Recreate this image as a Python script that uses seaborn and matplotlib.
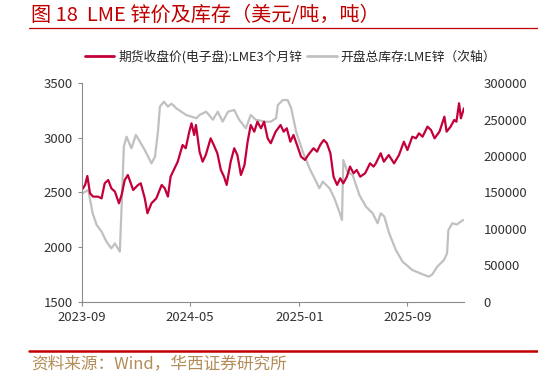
import numpy as np
import pandas as pd
import seaborn as sns
import matplotlib.pyplot as plt
import matplotlib.dates as mdates
from matplotlib.lines import Line2D

# LME 3个月锌 收盘价 (美元/吨)
price_dates = [
    "2023-09-02", "2023-09-08", "2023-09-13", "2023-09-19", "2023-09-26", "2023-10-07",
    "2023-10-15", "2023-10-22", "2023-10-30", "2023-11-06", "2023-11-14", "2023-11-23",
    "2023-11-29", "2023-12-06", "2023-12-13", "2023-12-25", "2024-01-05", "2024-01-11",
    "2024-01-20", "2024-01-26", "2024-02-04", "2024-02-15", "2024-02-27", "2024-03-05",
    "2024-03-12", "2024-03-18", "2024-03-27", "2024-04-03", "2024-04-14", "2024-04-21",
    "2024-04-29", "2024-05-04", "2024-05-10", "2024-05-14", "2024-05-22", "2024-05-29",
    "2024-06-05", "2024-06-16", "2024-06-23", "2024-07-01", "2024-07-09", "2024-07-16",
    "2024-07-22", "2024-07-31", "2024-08-08", "2024-08-15", "2024-08-23", "2024-08-31",
    "2024-09-07", "2024-09-14", "2024-09-22", "2024-09-29", "2024-10-07", "2024-10-14",
    "2024-10-22", "2024-10-29", "2024-11-09", "2024-11-20", "2024-11-27", "2024-12-04",
    "2024-12-12", "2024-12-19", "2024-12-27", "2025-01-05", "2025-01-14", "2025-01-21",
    "2025-02-02", "2025-02-10", "2025-02-17", "2025-02-25", "2025-03-04", "2025-03-12",
    "2025-03-19", "2025-03-27", "2025-04-03", "2025-04-10", "2025-04-18", "2025-04-25",
    "2025-05-03", "2025-05-10", "2025-05-18", "2025-05-29", "2025-06-09", "2025-06-17",
    "2025-06-22", "2025-07-03", "2025-07-10", "2025-07-21", "2025-08-02", "2025-08-13",
    "2025-08-24", "2025-09-01", "2025-09-12", "2025-09-20", "2025-09-27", "2025-10-05",
    "2025-10-16", "2025-10-24", "2025-11-01", "2025-11-12", "2025-11-23", "2025-11-28",
    "2025-12-07", "2025-12-15", "2025-12-20", "2025-12-26", "2025-12-30", "2026-01-06",
]
price_values = [
    2530, 2569, 2651, 2493, 2462, 2462,
    2446, 2584, 2614, 2538, 2508, 2401,
    2478, 2614, 2660, 2523, 2569, 2584,
    2447, 2310, 2401, 2447, 2569, 2538,
    2462, 2645, 2722, 2782, 2935, 2905,
    3057, 3134, 3027, 3118, 2874, 2782,
    2843, 2996, 2935, 2859, 2706, 2645,
    2569, 2782, 2905, 2843, 2660, 2752,
    2965, 3118, 3057, 3148, 3088, 3148,
    2996, 2951, 3057, 3118, 3057, 3088,
    2965, 3027, 2935, 2828, 2798, 2843,
    2905, 2874, 2935, 2981, 2951, 2859,
    2645, 2569, 2630, 2584, 2645, 2737,
    2676, 2706, 2645, 2676, 2767, 2737,
    2767, 2859, 2782, 2843, 2767, 2843,
    2965, 2889, 3011, 2996, 3042, 3011,
    3103, 3072, 2996, 3057, 3194, 3057,
    3103, 3164, 3148, 3317, 3179, 3271,
]

# LME 锌 开盘总库存 (吨)
stock_dates = [
    "2023-09-02", "2023-09-15", "2023-09-25", "2023-10-04", "2023-10-15", "2023-10-26",
    "2023-11-06", "2023-11-14", "2023-11-25", "2023-11-29", "2023-12-04", "2023-12-10",
    "2023-12-21", "2023-12-31", "2024-01-09", "2024-01-20", "2024-02-04", "2024-02-12",
    "2024-02-19", "2024-02-23", "2024-03-03", "2024-03-12", "2024-03-20", "2024-03-31",
    "2024-04-22", "2024-05-15", "2024-05-22", "2024-06-06", "2024-06-21", "2024-07-02",
    "2024-07-13", "2024-07-25", "2024-08-08", "2024-08-19", "2024-09-03", "2024-09-14",
    "2024-09-25", "2024-10-18", "2024-10-29", "2024-11-10", "2024-11-14", "2024-11-25",
    "2024-12-06", "2024-12-14", "2024-12-25", "2025-01-09", "2025-01-24", "2025-02-08",
    "2025-02-15", "2025-02-23", "2025-03-10", "2025-03-21", "2025-04-01", "2025-04-07",
    "2025-04-10", "2025-04-19", "2025-05-01", "2025-05-16", "2025-05-31", "2025-06-15",
    "2025-06-26", "2025-07-03", "2025-07-11", "2025-07-22", "2025-08-06", "2025-08-21",
    "2025-09-12", "2025-10-05", "2025-10-19", "2025-10-27", "2025-11-07", "2025-11-22",
    "2025-11-29", "2025-12-02", "2025-12-11", "2025-12-21", "2026-01-04",
]
stock_values = [
    148900, 153400, 121400, 105400, 96200, 82400,
    73300, 80000, 68700, 130500, 212900, 226600,
    210700, 229000, 220000, 208400, 190100, 199000,
    235900, 267900, 274700, 268000, 272000, 265600,
    256500, 252000, 256500, 261000, 250000, 261000,
    247300, 261000, 263300, 250000, 238200, 256500,
    250000, 247000, 247300, 252000, 270200, 277000,
    277000, 265600, 233500, 206000, 183200, 164900,
    155800, 164900, 155800, 142000, 123600, 112200,
    194600, 178600, 174000, 146600, 130500, 121400,
    107700, 121400, 117000, 94000, 71000, 55000,
    43500, 37600, 34400, 37600, 48100, 57300,
    66500, 98500, 107700, 106000, 112200,
]

price_label = "期货收盘价(电子盘):LME3个月锌"
stock_label = "开盘总库存:LME锌（次轴）"
title_text = "图 18  LME 锌价及库存（美元/吨，吨）"
source_text = "资料来源：Wind，华西证券研究所"

red = "#C4003A"
grey = "#C0C0C0"

sns.set_style("ticks")
plt.rcParams["font.family"] = ["Noto Sans CJK SC", "DejaVu Sans"]
plt.rcParams["axes.unicode_minus"] = False

price = pd.DataFrame({"date": pd.to_datetime(price_dates), "value": price_values})
stock = pd.DataFrame({"date": pd.to_datetime(stock_dates), "value": stock_values})

fig = plt.figure(figsize=(5.38, 3.75), dpi=100)
ax = fig.add_axes([0.1524, 0.1955, 0.71, 0.5824])
ax2 = ax.twinx()

sns.lineplot(data=stock, x="date", y="value", ax=ax2, color=grey, linewidth=1.6)
sns.lineplot(data=price, x="date", y="value", ax=ax, color=red, linewidth=1.6)

# price line drawn above inventory line
ax.set_zorder(ax2.get_zorder() + 1)
ax.patch.set_visible(False)

ax.set_ylim(1500, 3500)
ax.set_yticks([1500, 2000, 2500, 3000, 3500])
ax2.set_ylim(0, 300000)
ax2.set_yticks(np.arange(0, 300001, 50000))
ax.set_xlim(pd.Timestamp("2023-09-01"), pd.Timestamp("2026-01-06"))
ax.set_xticks(pd.to_datetime(["2023-09-01", "2024-05-01", "2025-01-01", "2025-09-01"]))
ax.xaxis.set_major_formatter(mdates.DateFormatter("%Y-%m"))

for a in (ax, ax2):
    a.set_xlabel("")
    a.set_ylabel("")
    for s in ("top", "right"):
        a.spines[s].set_visible(False)
ax2.spines["left"].set_visible(False)
ax2.spines["bottom"].set_visible(False)
ax.spines["left"].set_color("#8C8C8C")
ax.spines["bottom"].set_color("#8C8C8C")
ax.tick_params(axis="both", labelsize=9.5, colors="#8C8C8C", labelcolor="#333333",
               length=3, width=0.8)
ax2.tick_params(axis="y", labelsize=9.5, length=0, labelcolor="#333333", pad=14)

handles = [Line2D([], [], color=red, linewidth=2), Line2D([], [], color=grey, linewidth=2)]
fig.legend(handles, [price_label, stock_label], loc="center", bbox_to_anchor=(0.54, 0.848),
           ncol=2, frameon=False, fontsize=9.2, handlelength=2.3, columnspacing=0.4,
           handletextpad=0.3)

fig.text(0.058, 0.96, title_text, color="#C00000", fontsize=14.5, va="center", ha="left")
fig.add_artist(Line2D([0.053, 1.0], [0.925, 0.925], color="#C00000", linewidth=0.9))
fig.add_artist(Line2D([0.053, 1.0], [0.063, 0.063], color="#C00000", linewidth=1.8))
fig.text(0.058, 0.03, source_text, color="#B38C58", fontsize=12, va="center", ha="left")

fig.savefig("out.png", dpi=100)
